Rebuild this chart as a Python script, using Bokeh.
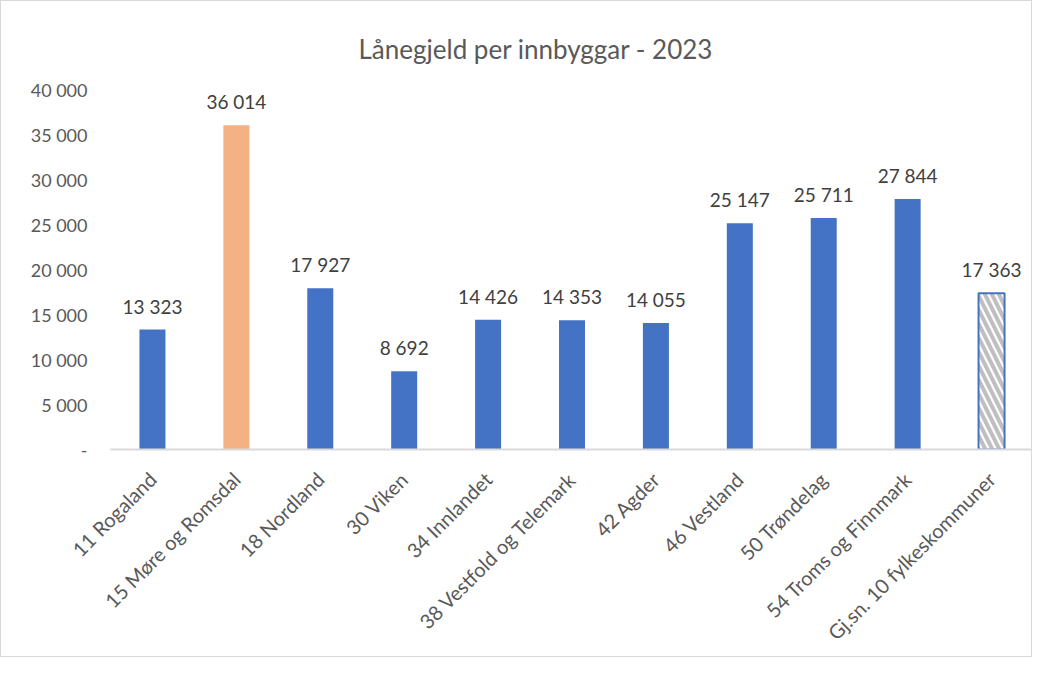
from bokeh.plotting import figure
from bokeh.models import ColumnDataSource, FactorRange, Range1d, FixedTicker, Title
from bokeh.embed import file_html
from bokeh.resources import INLINE
from bokeh.core.properties import value

categories = ["11 Rogaland", "15 Møre og Romsdal", "18 Nordland", "30 Viken",
              "34 Innlandet", "38 Vestfold og Telemark", "42 Agder", "46 Vestland",
              "50 Trøndelag", "54 Troms og Finnmark", "Gj.sn. 10 fylkeskommuner"]
values = [13323, 36014, 17927, 8692, 14426, 14353, 14055, 25147, 25711, 27844, 17363]
y_ticks = [0, 5000, 10000, 15000, 20000, 25000, 30000, 35000, 40000]

def fmt(v):
    return "{:,}".format(v).replace(",", " ")

BLUE = "#4472C4"
ORANGE = "#F4B183"
FONT = "Lato"

main_idx = [i for i in range(len(categories)) if i != 1 and i != len(categories) - 1]
src_blue = ColumnDataSource(dict(x=[categories[i] for i in main_idx], top=[values[i] for i in main_idx]))
src_orange = ColumnDataSource(dict(x=[categories[1]], top=[values[1]]))
src_avg = ColumnDataSource(dict(x=[categories[-1]], top=[values[-1]]))
src_lab = ColumnDataSource(dict(x=categories, y=values, t=[fmt(v) for v in values]))

p = figure(x_range=FactorRange(*categories), y_range=Range1d(0, 40000),
           width=1032, height=657, output_backend="svg", toolbar_location=None,
           min_border_left=109, min_border_right=0, min_border_top=88, min_border_bottom=209)
p.styles = {"border": "1px solid #d9d9d9"}
p.x_range.range_padding = 0
p.x_range.factor_padding = 0

t = Title(text="Lånegjeld per innbyggar - 2023", align="left", offset=248, text_font=FONT,
          text_font_size="26px", text_color="#595959", text_font_style="normal", standoff=50)
p.add_layout(t, "above")

p.vbar(x="x", top="top", width=0.31, source=src_blue, fill_color=BLUE, line_color=None)
p.vbar(x="x", top="top", width=0.31, source=src_orange, fill_color=ORANGE, line_color=None)
p.vbar(x="x", top="top", width=0.31, source=src_avg, fill_color="white", line_color=BLUE,
       line_width=2, hatch_pattern="\\", hatch_color="#bfbfbf", hatch_weight=4, hatch_scale=14)

p.text(x="x", y="y", text="t", source=src_lab, text_align="center", text_baseline="bottom",
       y_offset=-12, text_font=value(FONT), text_font_size="19px", text_color="#404040")

p.xgrid.grid_line_color = None
p.ygrid.grid_line_color = None
p.outline_line_color = None

p.yaxis.ticker = FixedTicker(ticks=y_ticks)
p.yaxis.major_label_overrides = {v: ("-" if v == 0 else fmt(v)) for v in y_ticks}
p.yaxis.axis_line_color = None
p.yaxis.major_tick_line_color = None
p.yaxis.minor_tick_line_color = None
p.yaxis.major_label_text_font = FONT
p.yaxis.major_label_text_font_size = "18px"
p.yaxis.major_label_text_color = "#595959"
p.yaxis.major_label_standoff = 17

p.xaxis.axis_line_color = "#d9d9d9"
p.xaxis.axis_line_width = 2
p.xaxis.major_tick_line_color = None
p.xaxis.minor_tick_line_color = None
p.xaxis.major_label_orientation = 0.785398
p.xaxis.major_label_text_font = FONT
p.xaxis.major_label_text_font_size = "20px"
p.xaxis.major_label_text_color = "#595959"
p.xaxis.major_label_standoff = 20

open("out.html", "w").write(file_html(p, INLINE))
